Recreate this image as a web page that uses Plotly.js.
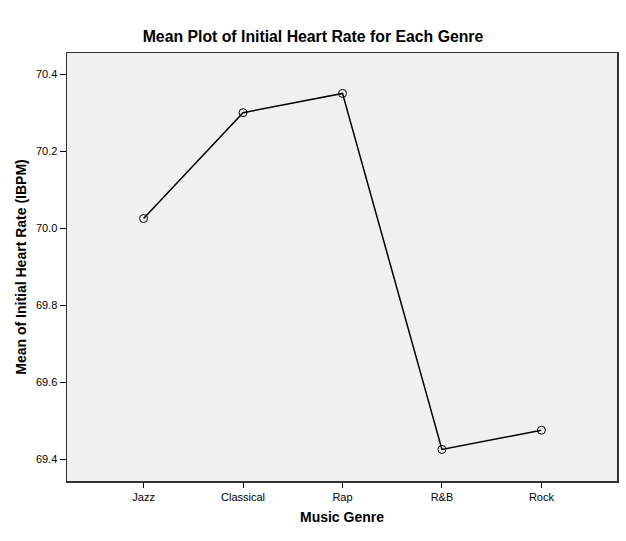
<!DOCTYPE html>
<html>
<head>
<meta charset="utf-8">
<script src="https://cdn.plot.ly/plotly-3.0.1.min.js"></script>
<style>html,body{margin:0;padding:0;background:#fff;}#chart{width:626px;height:541px;}</style>
</head>
<body>
<div id="chart"></div>
<script>
const genres = ["Jazz", "Classical", "Rap", "R&B", "Rock"];
const meanIBPM = [70.025, 70.30, 70.35, 69.425, 69.475];
const yTicks = [69.4, 69.6, 69.8, 70.0, 70.2, 70.4];
const yTickText = ["69.4", "69.6", "69.8", "70.0", "70.2", "70.4"];

const trace = {
  x: genres,
  y: meanIBPM,
  type: "scatter",
  mode: "lines+markers",
  line: {color: "#000000", width: 1.5},
  marker: {symbol: "circle-open", size: 8, color: "#000000", line: {width: 1, color: "#000000"}},
  hoverinfo: "x+y"
};

const layout = {
  width: 626, height: 541,
  margin: {l: 67, r: 9, t: 53, b: 60},
  paper_bgcolor: "#ffffff",
  plot_bgcolor: "#f0f0f0",
  font: {family: "Liberation Sans, Arial, sans-serif", color: "#000000", size: 11},
  title: {text: "Mean Plot of Initial Heart Rate for Each Genre", x: 0.5, xanchor: "center", y: 0.932, yanchor: "middle",
          font: {size: 15.8, color: "#000000", family: "Liberation Sans, Arial, sans-serif", weight: "bold"}},
  showlegend: false,
  xaxis: {
    type: "category",
    range: [-0.77, 4.76],
    showgrid: false, zeroline: false,
    showline: true, linecolor: "#333333", linewidth: 1.5, mirror: true,
    ticks: "outside", ticklen: 5, tickcolor: "#000000", tickwidth: 1,
    tickfont: {size: 11, color: "#000000"},
    title: {text: "Music Genre", standoff: 10, font: {size: 14, color: "#000000", weight: "bold"}}
  },
  yaxis: {
    range: [69.343, 70.455],
    tickvals: yTicks, ticktext: yTickText,
    showgrid: false, zeroline: false,
    showline: true, linecolor: "#333333", linewidth: 1.5, mirror: true,
    ticks: "outside", ticklen: 6, tickcolor: "#000000", tickwidth: 1,
    tickfont: {size: 11, color: "#000000"},
    title: {text: "Mean of Initial Heart Rate (IBPM)", standoff: 6, font: {size: 14, color: "#000000", weight: "bold"}}
  }
};

Plotly.newPlot("chart", [trace], layout, {displayModeBar: false, staticPlot: true});
</script>
</body>
</html>
